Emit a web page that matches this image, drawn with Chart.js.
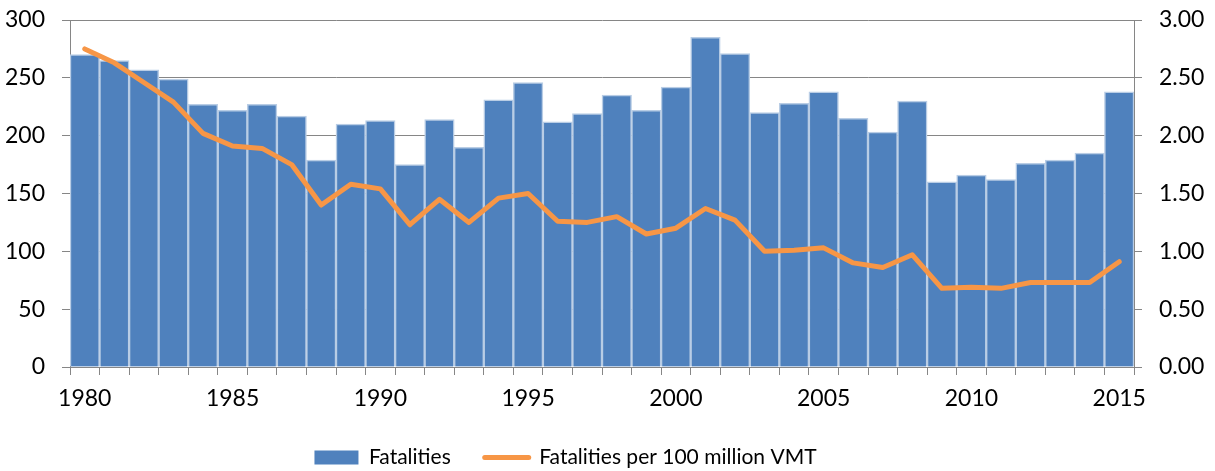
<!DOCTYPE html>
<html>
<head>
<meta charset="utf-8">
<script src="https://cdn.jsdelivr.net/npm/chart.js@4/dist/chart.umd.min.js"></script>
<style>
  html, body { margin: 0; padding: 0; background: #fff; }
  #wrap { width: 1215px; height: 471px; position: relative; }
</style>
</head>
<body>
<div id="wrap"><canvas id="chart"></canvas></div>
<script>
// data
const years = [1980,1981,1982,1983,1984,1985,1986,1987,1988,1989,
               1990,1991,1992,1993,1994,1995,1996,1997,1998,1999,
               2000,2001,2002,2003,2004,2005,2006,2007,2008,2009,
               2010,2011,2012,2013,2014,2015];
const fatalities = [270,265,257,249,227,222,227,217,179,210,
                    213,175,214,190,231,246,212,219,235,222,
                    242,285,271,220,228,238,215,203,230,160,
                    166,162,176,179,185,238];
const ratePerVMT = [2.75,2.63,2.46,2.29,2.02,1.91,1.89,1.75,1.40,1.58,
                    1.54,1.23,1.45,1.25,1.46,1.50,1.26,1.25,1.30,1.15,
                    1.20,1.37,1.27,1.00,1.01,1.03,0.90,0.86,0.97,0.68,
                    0.69,0.68,0.73,0.73,0.73,0.91];
const leftTicks = [0,50,100,150,200,250,300];
const rightTicks = [0,0.5,1,1.5,2,2.5,3];

const AXIS_GRAY = '#868686';
const TICK_FONT = { family: 'Lato', size: 23 };
const LEGEND_FONT = { family: 'Lato', size: 21 };

// Excel put the legend a bit left of centre
const legendShift = {
    id: 'legendShift',
    afterLayout(chart) {
        chart.legend.left -= 42;
        chart.legend.right -= 42;
    }
};

// y axes: fixed width, no extra top/bottom room for the labels
function fitY(width) {
    return function (s) {
        s.width = width;
        s.paddingTop = 0;
        s.paddingBottom = 0;
    };
}

const ctx = document.getElementById('chart').getContext('2d');
new Chart(ctx, {
    type: 'bar',
    plugins: [legendShift],
    data: {
        labels: years.map(String),
        datasets: [
            {
                type: 'bar',
                label: 'Fatalities',
                data: fatalities,
                yAxisID: 'y',
                backgroundColor: '#4f81bd',
                borderColor: '#b9cde5',
                borderWidth: 1.5,
                barPercentage: 1,
                categoryPercentage: 1,
                order: 1
            },
            {
                type: 'line',
                label: 'Fatalities per 100 million VMT',
                data: ratePerVMT,
                yAxisID: 'y1',
                borderColor: '#f79646',
                backgroundColor: '#f79646',
                borderWidth: 5,
                borderCapStyle: 'round',
                borderJoinStyle: 'round',
                pointRadius: 0,
                tension: 0,
                fill: false,
                order: 0
            }
        ]
    },
    options: {
        responsive: true,
        maintainAspectRatio: false,
        animation: false,
        layout: { padding: { top: 20, left: 0, right: 0, bottom: -7 } },
        plugins: {
            tooltip: { enabled: false },
            legend: {
                position: 'bottom',
                labels: {
                    color: '#000',
                    font: LEGEND_FONT,
                    usePointStyle: true,
                    pointStyleWidth: 44,
                    boxHeight: 14,
                    padding: 34,
                    sort: (a, b) => a.datasetIndex - b.datasetIndex,
                    generateLabels: function (chart) {
                        const items = Chart.defaults.plugins.legend.labels.generateLabels(chart);
                        items.forEach(function (it) {
                            if (it.datasetIndex === 0) {
                                it.pointStyle = 'rect';
                                it.fillStyle = '#4f81bd';
                                it.strokeStyle = '#4f81bd';
                                it.lineWidth = 0;
                            } else {
                                it.pointStyle = 'line';
                                it.strokeStyle = '#f79646';
                                it.lineWidth = 5;
                                it.lineCap = 'round';
                            }
                        });
                        return items;
                    }
                }
            }
        },
        scales: {
            x: {
                offset: true,
                grid: {
                    display: true,
                    offset: true,
                    drawOnChartArea: false,
                    drawTicks: true,
                    tickLength: 8,
                    color: AXIS_GRAY
                },
                border: { display: true, color: AXIS_GRAY },
                ticks: {
                    autoSkip: false,
                    maxRotation: 0,
                    color: '#000',
                    font: TICK_FONT,
                    padding: 10,
                    callback: function (v, i) {
                        return years[i] % 5 === 0 ? String(years[i]) : '';
                    }
                },
                afterFit: function (s) { s.height = 46; }
            },
            y: {
                position: 'left',
                min: 0,
                max: 300,
                afterBuildTicks: function (s) { s.ticks = leftTicks.map(v => ({ value: v })); },
                grid: { color: AXIS_GRAY, tickLength: 8 },
                border: { display: true, color: AXIS_GRAY },
                ticks: { color: '#000', font: TICK_FONT, padding: 17 },
                afterFit: fitY(70)
            },
            y1: {
                position: 'right',
                min: 0,
                max: 3,
                afterBuildTicks: function (s) { s.ticks = rightTicks.map(v => ({ value: v })); },
                grid: { drawOnChartArea: false, color: AXIS_GRAY, tickLength: 8 },
                border: { display: true, color: AXIS_GRAY },
                ticks: {
                    color: '#000',
                    font: TICK_FONT,
                    padding: 17,
                    callback: function (v) { return Number(v).toFixed(2); }
                },
                afterFit: fitY(81)
            }
        }
    }
});
</script>
</body>
</html>
